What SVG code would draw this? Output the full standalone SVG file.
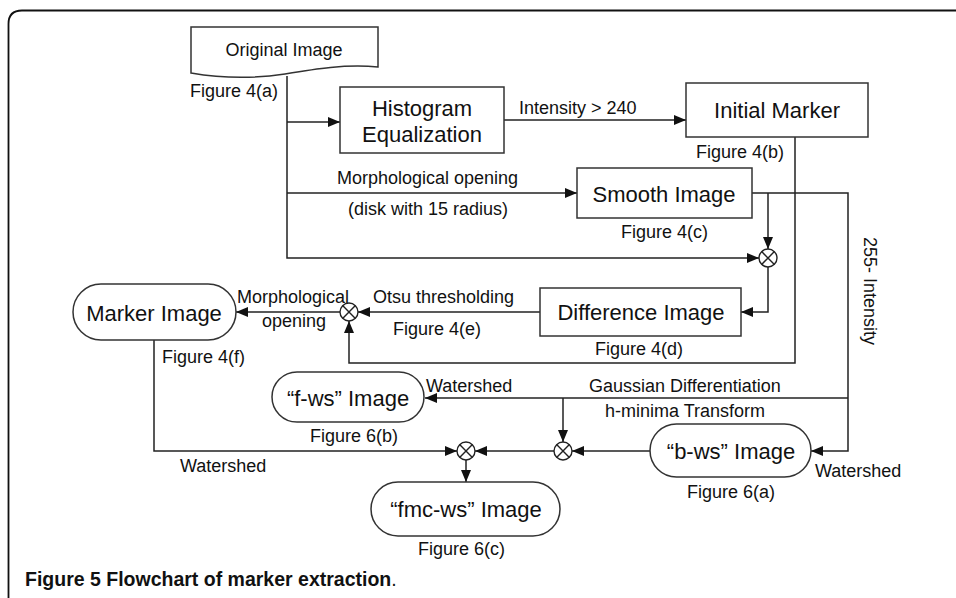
<svg xmlns="http://www.w3.org/2000/svg" width="956" height="598" viewBox="0 0 956 598">
<defs>
<marker id="arr" viewBox="0 0 12 10" refX="12" refY="5" markerWidth="12" markerHeight="10" markerUnits="userSpaceOnUse" orient="auto">
<path d="M0,0 L12,5 L0,10 Z" fill="#111"/>
</marker>
<g id="xcirc">
<circle cx="0" cy="0" r="9" fill="#fff" stroke="#222" stroke-width="1.4"/>
<path d="M-6.4,-6.4 L6.4,6.4 M-6.4,6.4 L6.4,-6.4" stroke="#222" stroke-width="1.4"/>
</g>
</defs>
<style>
.box{fill:#fff;stroke:#333;stroke-width:1.5}
.ln{fill:none;stroke:#222;stroke-width:1.5}
.t{font-family:"Liberation Sans",Arial,sans-serif;font-size:22px;fill:#111;text-anchor:middle;dominant-baseline:central}
.l{font-family:"Liberation Sans",Arial,sans-serif;font-size:18px;fill:#111}
.c{font-family:"Liberation Sans",Arial,sans-serif;font-size:19.5px;font-weight:bold;fill:#111}
</style>
<rect width="956" height="598" fill="#fff"/>
<path d="M8.5,598 V24 Q8.5,10.5 22,10.5 H956" fill="none" stroke="#111" stroke-width="1.8"/>

<g id="connectors">
<path class="ln" d="M287,76 V258 H759" marker-end="url(#arr)"/>
<path class="ln" d="M287,122 H340" marker-end="url(#arr)"/>
<path class="ln" d="M287,193 H577" marker-end="url(#arr)"/>
<path class="ln" d="M504,120 H686" marker-end="url(#arr)"/>
<path class="ln" d="M795,137 V363 H349 V321" marker-end="url(#arr)"/>
<path class="ln" d="M752,193 H848 V451 H811" marker-end="url(#arr)"/>
<path class="ln" d="M848,398 H425" marker-end="url(#arr)"/>
<path class="ln" d="M768,193 V249" marker-end="url(#arr)"/>
<path class="ln" d="M768,267 V312 H741" marker-end="url(#arr)"/>
<path class="ln" d="M540,312 H358" marker-end="url(#arr)"/>
<path class="ln" d="M340,312 H236" marker-end="url(#arr)"/>
<path class="ln" d="M154,340 V451 H457" marker-end="url(#arr)"/>
<path class="ln" d="M650,451 H572" marker-end="url(#arr)"/>
<path class="ln" d="M563,398 V442" marker-end="url(#arr)"/>
<path class="ln" d="M554,451 H475" marker-end="url(#arr)"/>
<path class="ln" d="M466,460 V482" marker-end="url(#arr)"/>
<text class="l" x="519" y="114">Intensity &gt; 240</text>
<text class="l" x="337" y="184">Morphological opening</text>
<text class="l" x="348" y="215">(disk with 15 radius)</text>
<text class="l" x="373" y="303">Otsu thresholding</text>
<text class="l" x="237" y="303">Morphological</text>
<text class="l" x="262" y="327">opening</text>
<text class="l" x="426" y="392">Watershed</text>
<text class="l" x="589" y="392">Gaussian Differentiation</text>
<text class="l" x="605" y="417">h-minima Transform</text>
<text class="l" x="180" y="472">Watershed</text>
<text class="l" x="815" y="477">Watershed</text>
<text class="l" transform="translate(864,291) rotate(90)" text-anchor="middle">255- Intensity</text>
</g>

<g id="join1"><use href="#xcirc" x="768" y="258"/></g>
<g id="join2"><use href="#xcirc" x="349" y="312"/></g>
<g id="join3"><use href="#xcirc" x="563" y="451"/></g>
<g id="join4"><use href="#xcirc" x="466" y="451"/></g>

<g id="original">
<path class="box" d="M191,27 H378 V67 C345,64 315,69 285,74 C252,79 220,78 191,73 Z"/>
<text class="t" x="284" y="50" style="font-size:18px">Original Image</text>
<text class="l" x="190" y="97">Figure 4(a)</text>
</g>
<g id="histogram">
<rect class="box" x="340" y="87" width="164" height="66"/>
<text class="t" x="422" y="108">Histogram</text>
<text class="t" x="422" y="134">Equalization</text>
</g>
<g id="initial">
<rect class="box" x="686" y="83" width="182" height="54"/>
<text class="t" x="777" y="110">Initial Marker</text>
<text class="l" x="696" y="158">Figure 4(b)</text>
</g>
<g id="smooth">
<rect class="box" x="577" y="168" width="175" height="50"/>
<text class="t" x="664" y="194">Smooth Image</text>
<text class="l" x="621" y="238">Figure 4(c)</text>
</g>
<g id="difference">
<rect class="box" x="540" y="288" width="201" height="48"/>
<text class="t" x="641" y="312">Difference Image</text>
<text class="l" x="595" y="355">Figure 4(d)</text>
<text class="l" x="393" y="335">Figure 4(e)</text>
</g>
<g id="marker">
<rect class="box" x="73" y="284" width="163" height="56" rx="28"/>
<text class="t" x="154" y="313">Marker Image</text>
<text class="l" x="162" y="363">Figure 4(f)</text>
</g>
<g id="fws">
<rect class="box" x="272" y="372" width="152" height="50" rx="25"/>
<text class="t" x="348" y="398">“f-ws” Image</text>
<text class="l" x="310" y="442">Figure 6(b)</text>
</g>
<g id="bws">
<rect class="box" x="650" y="424" width="161" height="53" rx="26.5"/>
<text class="t" x="731" y="451">“b-ws” Image</text>
<text class="l" x="687" y="498">Figure 6(a)</text>
</g>
<g id="fmcws">
<rect class="box" x="371" y="482" width="189" height="54" rx="27"/>
<text class="t" x="466" y="509">“fmc-ws” Image</text>
<text class="l" x="418" y="555">Figure 6(c)</text>
</g>

<text class="c" x="25" y="586">Figure 5 Flowchart of marker extraction<tspan font-weight="normal">.</tspan></text>
</svg>
